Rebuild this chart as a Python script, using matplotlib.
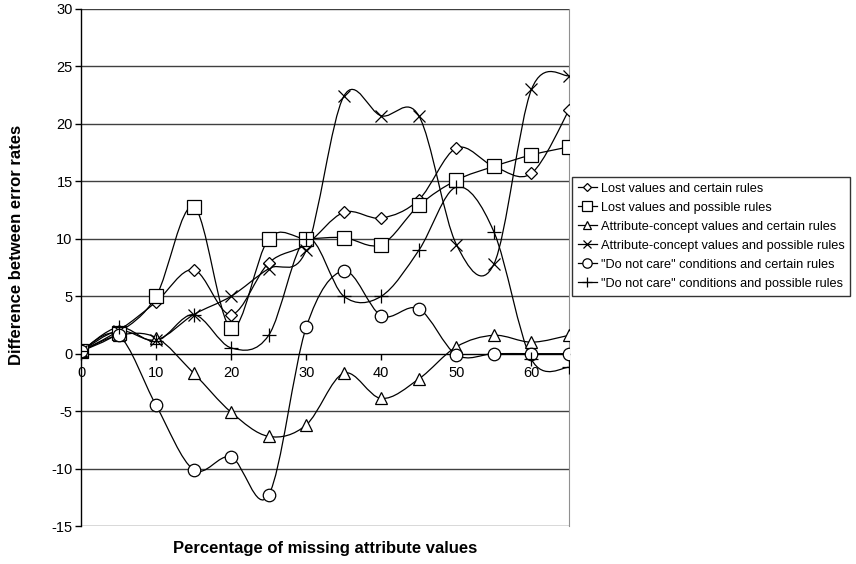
import numpy as np
import matplotlib.pyplot as plt
from matplotlib.path import Path
from matplotlib.patches import PathPatch
from matplotlib.lines import Line2D

plt.rcParams['font.family'] = ['Liberation Sans', 'DejaVu Sans']
plt.rcParams['axes.unicode_minus'] = False

# percentage of missing attribute values
pct = [0, 5, 10, 15, 20, 25, 30, 35, 40, 45, 50, 55, 60, 65]

lost_certain = [0.2, 2.0, 4.5, 7.3, 3.4, 7.9, 9.5, 12.3, 11.8, 13.4, 17.9, 16.3, 15.7, 21.2]
lost_possible = [0.2, 1.8, 5.0, 12.8, 2.2, 10.0, 10.0, 10.1, 9.5, 12.9, 15.1, 16.3, 17.3, 18.0]
ac_certain = [0.2, 1.6, 1.4, -1.7, -5.1, -7.2, -6.2, -1.7, -3.9, -2.2, 0.6, 1.6, 1.0, 1.6]
ac_possible = [0.2, 2.0, 1.2, 3.4, 5.0, 7.4, 9.0, 22.4, 20.7, 20.7, 9.5, 7.8, 23.0, 24.2]
dnc_certain = [0.2, 1.6, -4.5, -10.1, -9.0, -12.3, 2.3, 7.2, 3.3, 3.9, -0.1, 0.0, 0.0, 0.0]
dnc_possible = [0.2, 2.3, 1.1, 3.4, 0.5, 1.6, 10.0, 5.0, 5.0, 9.0, 14.5, 10.6, -0.5, -1.2]

labels = ['Lost values and certain rules',
          'Lost values and possible rules',
          'Attribute-concept values and certain rules',
          'Attribute-concept values and possible rules',
          '"Do not care" conditions and certain rules',
          '"Do not care" conditions and possible rules']

series = [lost_certain, lost_possible, ac_certain, ac_possible, dnc_certain, dnc_possible]
markers = [('D', 6), ('s', 10), ('^', 8), ('x', 8), ('o', 9), ('+', 10)]


def smooth_path(x, y):
    # Catmull-Rom style cubic bezier through every point
    x = np.asarray(x, float)
    y = np.asarray(y, float)
    pts = np.column_stack([x, y])
    verts = [pts[0]]
    codes = [Path.MOVETO]
    n = len(pts)
    for i in range(n - 1):
        p0 = pts[i - 1] if i > 0 else pts[i]
        p1 = pts[i]
        p2 = pts[i + 1]
        p3 = pts[i + 2] if i + 2 < n else pts[i + 1]
        c1 = p1 + (p2 - p0) / 6.0
        c2 = p2 - (p3 - p1) / 6.0
        verts += [c1, c2, p2]
        codes += [Path.CURVE4] * 3
    return Path(verts, codes)


fig = plt.figure(figsize=(8.56, 5.64), dpi=100)
ax = fig.add_axes([81 / 856, 1 - 526 / 564, 488 / 856, 517 / 564])

ax.set_xlim(0, 65)
ax.set_ylim(-15, 30)

for yv in range(-15, 31, 5):
    if yv != 0:
        ax.axhline(yv, color='#404040', lw=1.0, zorder=1)

handles = []
for vals, (m, ms), lab in zip(series, markers, labels):
    ax.add_patch(PathPatch(smooth_path(pct, vals), fill=False, ec='black', lw=0.9, zorder=3))
    ax.plot(pct, vals, ls='none', marker=m, ms=ms, mfc='white', mec='black', mew=0.9, zorder=4)
    handles.append(Line2D([], [], color='black', lw=0.9, marker=m, ms=ms * 0.75,
                          mfc='white', mec='black', mew=0.9))

ax.spines['top'].set_visible(False)
ax.spines['right'].set_color('#909090')
ax.spines['bottom'].set_position(('data', 0))
ax.spines['left'].set_linewidth(1.0)
ax.spines['bottom'].set_linewidth(1.0)

ax.set_xticks(range(0, 61, 10))
ax.set_yticks(range(-15, 31, 5))
ax.tick_params(axis='both', direction='out', length=4, width=1, labelsize=10.5, pad=2)
ax.tick_params(axis='x', pad=5)

fig.text(17 / 856, 1 - 245 / 564, 'Difference between error rates', rotation=90,
         ha='center', va='center', fontsize=12, fontweight='bold')
fig.text(325 / 856, 1 - 549 / 564, 'Percentage of missing attribute values',
         ha='center', va='center', fontsize=12, fontweight='bold')

leg = fig.legend(handles, labels, loc='upper left', bbox_to_anchor=(572 / 856, 1 - 177 / 564),
                 fontsize=9.2, frameon=True, fancybox=False, edgecolor='black',
                 handlelength=1.5, handletextpad=0.3, labelspacing=0.55, borderpad=0.45,
                 borderaxespad=0)
leg.get_frame().set_linewidth(1.0)

fig.savefig('out.png', dpi=100)
